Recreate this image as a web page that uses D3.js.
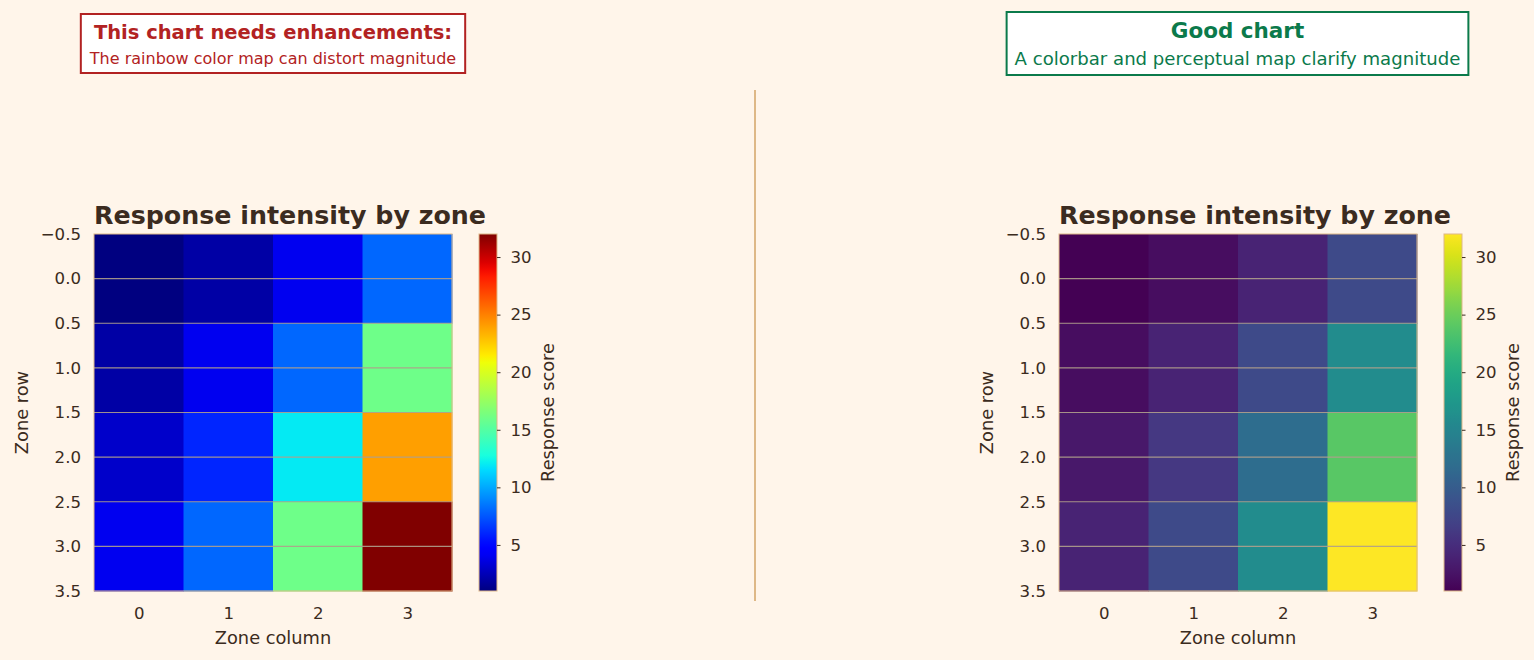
<!DOCTYPE html>
<html>
<head>
<meta charset="UTF-8" />
<script src="https://d3js.org/d3.v7.min.js"></script>
<style>
  body { margin: 0; background: #fff5ea; }
  svg { display: block; font-family: "DejaVu Sans", sans-serif; }
</style>
</head>
<body>
<svg width="1534" height="660"></svg>
<script>
// data: response score per zone (rows x columns)
const rows = [0, 1, 2, 3];
const cols = [0, 1, 2, 3];
const scores = [
  [1, 2, 4, 8],
  [2, 4, 8, 16],
  [3, 6, 12, 24],
  [4, 8, 16, 32]
];
const yTicks = [-0.5, 0, 0.5, 1, 1.5, 2, 2.5, 3, 3.5];
const cbTicks = [5, 10, 15, 20, 25, 30];
const vmin = 1, vmax = 32;

const ink = "#3b2b20";
const spine = "#deb887";
const tickSize = "16.6px";
const labelSize = "17.8px";
const svg = d3.select("svg");

// matplotlib jet colormap
function jet(t) {
  const seg = (pts) => {
    for (let i = 0; i < pts.length - 1; i++) {
      const [x0, y0] = pts[i], [x1, y1] = pts[i + 1];
      if (t <= x1) return y0 + (y1 - y0) * (t - x0) / (x1 - x0);
    }
    return pts[pts.length - 1][1];
  };
  const r = seg([[0, 0], [0.35, 0], [0.66, 1], [0.89, 1], [1, 0.5]]);
  const g = seg([[0, 0], [0.125, 0], [0.375, 1], [0.64, 1], [0.91, 0], [1, 0]]);
  const b = seg([[0, 0.5], [0.11, 1], [0.34, 1], [0.65, 0], [1, 0]]);
  return d3.rgb(r * 255, g * 255, b * 255).toString();
}

function drawPanel(x0, interp) {
  const y0 = 234, w = 358, h = 357;
  const g = svg.append("g");
  const x = d3.scaleLinear().domain([-0.5, 3.5]).range([x0, x0 + w]);
  const y = d3.scaleLinear().domain([-0.5, 3.5]).range([y0, y0 + h]);
  const color = d3.scaleSequential(interp).domain([vmin, vmax]);

  const cells = [];
  rows.forEach((r, i) => cols.forEach((c, j) => cells.push({ r, c, v: scores[i][j] })));
  g.selectAll("rect.cell").data(cells).join("rect")
    .attr("class", "cell")
    .attr("x", d => x(d.c - 0.5))
    .attr("y", d => y(d.r - 0.5))
    .attr("width", x(1) - x(0) + 0.5)
    .attr("height", y(1) - y(0) + 0.5)
    .attr("fill", d => color(d.v));

  // horizontal grid lines
  g.selectAll("line.grid").data(yTicks.slice(1, -1)).join("line")
    .attr("x1", x0).attr("x2", x0 + w)
    .attr("y1", d => y(d)).attr("y2", d => y(d))
    .attr("stroke", "#b0a08c").attr("stroke-width", 1.2).attr("opacity", 0.9);

  g.append("rect").attr("x", x0).attr("y", y0).attr("width", w).attr("height", h)
    .attr("fill", "none").attr("stroke", spine).attr("stroke-width", 1);

  // axes
  const fmt = d => d3.format(".1f")(d).replace("-", "\u2212");
  const yAxis = d3.axisLeft(y).tickValues(yTicks).tickFormat(fmt).tickSize(0).tickPadding(13);
  const ya = g.append("g").attr("transform", `translate(${x0},0)`).call(yAxis);
  const xAxis = d3.axisBottom(x).tickValues(cols).tickFormat(d3.format("d")).tickSize(0).tickPadding(16);
  const xa = g.append("g").attr("transform", `translate(0,${y0 + h})`).call(xAxis);
  [ya, xa].forEach(a => {
    a.select(".domain").remove();
    a.selectAll("text").attr("fill", ink).style("font-size", tickSize).style("font-family", "DejaVu Sans");
  });

  g.append("text").attr("x", x0 + w / 2).attr("y", 644)
    .attr("text-anchor", "middle").attr("fill", ink).style("font-size", labelSize)
    .text("Zone column");
  g.append("text").attr("transform", `translate(${x0 - 66},${y0 + h / 2}) rotate(-90)`)
    .attr("text-anchor", "middle").attr("fill", ink).style("font-size", labelSize)
    .text("Zone row");
  g.append("text").attr("x", x0).attr("y", y0 - 10)
    .attr("fill", ink).style("font-size", "25.3px").style("font-weight", "bold")
    .text("Response intensity by zone");

  // colorbar
  const cx = x0 + 385, cw = 18;
  const cy = d3.scaleLinear().domain([vmin, vmax]).range([y0 + h, y0]);
  const defs = svg.append("defs");
  const gid = "grad" + x0;
  const grad = defs.append("linearGradient").attr("id", gid)
    .attr("x1", 0).attr("y1", 1).attr("x2", 0).attr("y2", 0);
  d3.range(0, 1.0001, 0.02).forEach(t => {
    grad.append("stop").attr("offset", t).attr("stop-color", interp(t));
  });
  g.append("rect").attr("x", cx).attr("y", y0).attr("width", cw).attr("height", h)
    .attr("fill", `url(#${gid})`).attr("stroke", spine).attr("stroke-width", 1);
  const cAxis = d3.axisRight(cy).tickValues(cbTicks).tickSize(3.5).tickPadding(10);
  const ca = g.append("g").attr("transform", `translate(${cx + cw},0)`).call(cAxis);
  ca.select(".domain").remove();
  ca.selectAll("line").attr("stroke", ink);
  ca.selectAll("text").attr("fill", ink).style("font-size", tickSize).style("font-family", "DejaVu Sans");
  g.append("text").attr("transform", `translate(${cx + 75},${y0 + h / 2}) rotate(-90)`)
    .attr("text-anchor", "middle").attr("fill", ink).style("font-size", labelSize)
    .text("Response score");
}

drawPanel(94, jet);
drawPanel(1059, d3.interpolateViridis);

// divider
svg.append("line").attr("x1", 755).attr("x2", 755).attr("y1", 90).attr("y2", 601)
  .attr("stroke", spine).attr("stroke-width", 2);

// annotation boxes
function note(cx, top, titleText, subText, col, tSize, sSize, padX, hgt, tY, sY) {
  const g = svg.append("g");
  const rect = g.append("rect");
  const t1 = g.append("text").attr("x", cx).attr("y", top + tY).attr("text-anchor", "middle")
    .attr("fill", col).style("font-weight", "bold").style("font-size", tSize + "px").text(titleText);
  const t2 = g.append("text").attr("x", cx).attr("y", top + sY).attr("text-anchor", "middle")
    .attr("fill", col).style("font-size", sSize + "px").text(subText);
  const wdt = Math.max(t1.node().getComputedTextLength(), t2.node().getComputedTextLength()) + 2 * padX;
  rect.attr("x", cx - wdt / 2).attr("y", top).attr("width", wdt).attr("height", hgt)
    .attr("fill", "white").attr("stroke", col).attr("stroke-width", 2);
}
note(273, 14, "This chart needs enhancements:", "The rainbow color map can distort magnitude",
  "#b22222", 19.5, 16, 9, 59, 25, 50);
note(1237.5, 12, "Good chart", "A colorbar and perceptual map clarify magnitude",
  "#0b7a4b", 21.5, 18.1, 8, 63, 26, 53);
</script>
</body>
</html>
